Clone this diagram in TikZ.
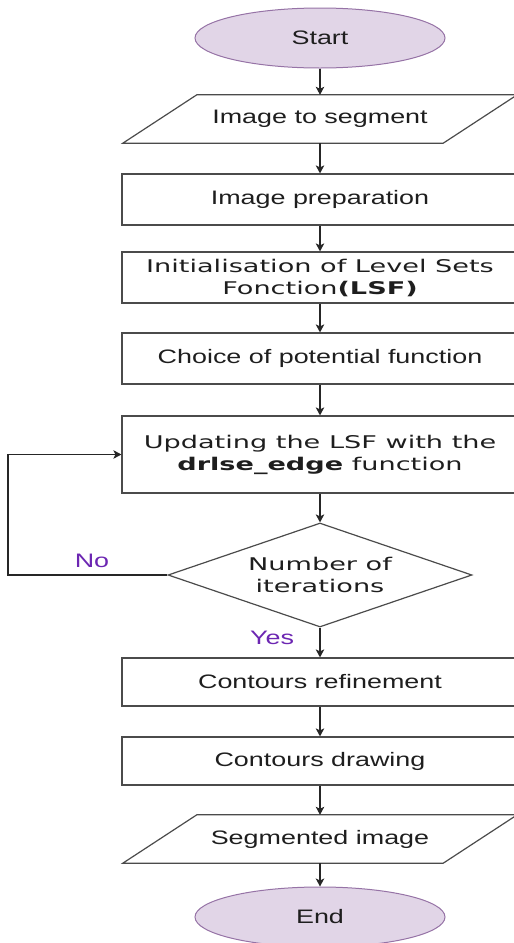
\documentclass[tikz,border=0pt]{standalone}
\usepackage{fontspec}
\setmainfont{Liberation Sans}[FakeStretch=1.38]
\newfontfamily\widefont{DejaVu Sans}[FakeStretch=1.55]
\usetikzlibrary{shapes.geometric,arrows.meta}

\definecolor{termfill}{RGB}{225,213,231}
\definecolor{termdraw}{RGB}{150,115,166}
\definecolor{edgegray}{RGB}{75,75,75}
\definecolor{labelpurple}{RGB}{108,38,178}
\definecolor{inkcol}{RGB}{30,30,30}

\begin{document}
\begin{tikzpicture}[x=1pt,y=-1pt,
  every node/.style={font=\fontsize{19.5}{23}\selectfont, text=inkcol},
  wide/.style={font=\widefont\fontsize{17.5}{22}\selectfont},
  terminal/.style={ellipse, draw=termdraw, fill=termfill, line width=1pt,
    minimum width=250pt, minimum height=60pt, inner sep=0pt},
  procbox/.style={rectangle, draw=edgegray, line width=1.2pt,
    minimum width=396pt, inner sep=0pt, align=center},
  iobody/.style={rectangle, minimum width=320pt, minimum height=48pt, inner sep=0pt},
  iooutline/.style={draw=edgegray, line width=1.2pt},
  decision/.style={diamond, draw=edgegray, line width=1.2pt, aspect=2.92,
    minimum width=304pt, minimum height=104pt, inner sep=0pt, align=center},
  flow/.style={draw=black!85, line width=1.1pt, -{Stealth[length=8pt,width=8.5pt,inset=2pt]}},
  answer/.style={text=labelpurple},
]
\path[use as bounding box, clip] (0,0) rectangle (514,943);

% terminals
\node[terminal] (start) at (320,38) {Start};
\node[terminal] (finish) at (320,917) {End};

% input parallelogram
\node[iobody] (input) at (320,119) {Image to segment};
\draw[iooutline] ([xshift=-37pt]input.south west) -- ([xshift=-37pt]input.south east)
  -- ([xshift=37pt]input.north east) -- ([xshift=37pt]input.north west) -- cycle;

% processing steps
\node[procbox, minimum height=51pt] (prep) at (320,199.5) {Image preparation};
\node[procbox, minimum height=51pt, wide] (init) at (320,277.5)
  {Initialisation of Level Sets\\Fonction\textbf{(LSF)}};
\node[procbox, minimum height=51pt] (choice) at (320,358.5) {Choice of potential function};
\node[procbox, minimum height=77pt, wide] (update) at (320,454.5)
  {Updating the LSF with the\\\textbf{drlse\_edge} function};

% decision
\node[decision, wide] (iter) at (320,575) {Number of\\iterations};

% final steps
\node[procbox, minimum height=48pt] (refine) at (320,682) {Contours refinement};
\node[procbox, minimum height=48pt] (contour) at (320,761) {Contours drawing};

% output parallelogram
\node[iobody] (output) at (320,839) {Segmented image};
\draw[iooutline] ([xshift=-37pt]output.south west) -- ([xshift=-37pt]output.south east)
  -- ([xshift=37pt]output.north east) -- ([xshift=37pt]output.north west) -- cycle;

% connectors
\draw[flow] (start) -- (input);
\draw[flow] (input.south) -- (prep);
\draw[flow] (prep) -- (init);
\draw[flow] (init) -- (choice);
\draw[flow] (choice) -- (update);
\draw[flow] (update) -- (iter);
\draw[flow] (iter) -- (refine);
\draw[flow] (refine) -- (contour);
\draw[flow] (contour) -- (output.north);
\draw[flow] (output.south) -- (finish);

% loop back
\coordinate (loopx) at (8,0);
\draw[flow] (iter.west) -- (iter.west -| loopx) |- (update.west);

% branch labels
\node[answer] (no) at (92,561) {No};
\node[answer] (yes) at (272,638) {Yes};
\end{tikzpicture}
\end{document}
